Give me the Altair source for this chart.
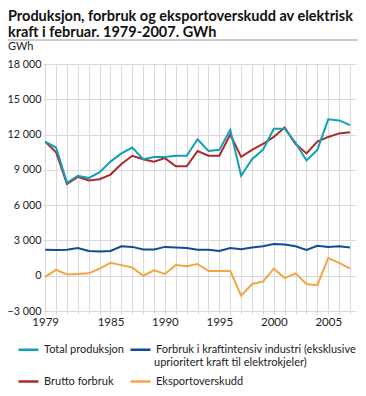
import altair as alt
import pandas as pd

years = list(range(1979, 2008))
total_produksjon = [11400, 10900, 7900, 8500, 8300, 8800, 9700, 10400, 10900, 9900,
                    10100, 10100, 10200, 10200, 11600, 10600, 10700, 12400, 8500, 9900,
                    10700, 12500, 12500, 11300, 9800, 10700, 13300, 13200, 12800]
brutto_forbruk = [11400, 10500, 7800, 8400, 8100, 8200, 8600, 9500, 10200, 9900,
                  9700, 10000, 9300, 9300, 10600, 10200, 10200, 12000, 10100, 10700,
                  11200, 11800, 12600, 11200, 10400, 11400, 11800, 12100, 12200]
kraftintensiv = [2200, 2180, 2200, 2350, 2100, 2050, 2100, 2500, 2450, 2230,
                 2230, 2450, 2400, 2350, 2200, 2200, 2100, 2350, 2250, 2400,
                 2500, 2700, 2650, 2500, 2200, 2550, 2450, 2500, 2400]
eksportoverskudd = [-100, 500, 100, 150, 200, 600, 1100, 900, 700, 0,
                    450, 150, 900, 800, 1000, 400, 400, 400, -1700, -700,
                    -500, 600, -200, 200, -700, -800, 1500, 1100, 600]

S_TOT = "Total produksjon"
S_IND = "Forbruk i kraftintensiv industri (eksklusive"
S_IND_2 = "uprioritert kraft til elektrokjeler)"
S_BRU = "Brutto forbruk"
S_EKS = "Eksportoverskudd"

series_order = [S_TOT, S_BRU, S_IND, S_EKS]
colors = ["#11a0b6", "#ab2a2a", "#0f4c98", "#f5a546"]
label_years = [1979, 1985, 1990, 1995, 2000, 2005]
y_ticks = [-3000, 0, 3000, 6000, 9000, 12000, 15000, 18000]

rows = []
for name, vals, o in [(S_EKS, eksportoverskudd, 0), (S_IND, kraftintensiv, 1),
                      (S_BRU, brutto_forbruk, 2), (S_TOT, total_produksjon, 3)]:
    for yr, v in zip(years, vals):
        rows.append({"year": yr, "value": v, "series": name, "o": o})
df = pd.DataFrame(rows)

FONT = "Lato"
GRID = "#d9d9de"
TXT = "#222"
FS = 11

label_expr = "indexof(" + str(label_years) + ", datum.value) >= 0 ? datum.label : ''"

lines = alt.Chart(df).mark_line(strokeWidth=2, clip=False).encode(
    x=alt.X("year:Q",
            scale=alt.Scale(domain=[1978.8, 2007.55], nice=False, zero=False),
            axis=alt.Axis(values=years, format="d", labelExpr=label_expr, title=None,
                          grid=True, gridColor=GRID, domain=False, tickSize=3,
                          tickColor=GRID, labelPadding=2, labelFontSize=FS + 0.5,
                          labelColor=TXT, labelFont=FONT, labelOverlap=False)),
    y=alt.Y("value:Q",
            scale=alt.Scale(domain=[-3000, 18000], nice=False),
            axis=alt.Axis(values=y_ticks, labelExpr="replace(format(datum.value, ','), ',', ' ')",
                          title=None, grid=True, gridColor=GRID, domain=False, ticks=False,
                          labelPadding=2, labelFontSize=10.8, labelColor=TXT, labelFont=FONT)),
    color=alt.Color("series:N", scale=alt.Scale(domain=series_order, range=colors),
                    legend=alt.Legend(title=None, orient="none", legendX=-26, legendY=274,
                                      columns=2, columnPadding=1, rowPadding=15,
                                      symbolType="stroke", symbolSize=400, symbolStrokeWidth=2.5,
                                      labelFont=FONT, labelFontSize=FS, labelColor=TXT,
                                      labelLimit=400, padding=0, labelOffset=4)),
    order=alt.Order("o:Q"),
)

title = alt.Chart(alt.Data(values=[{}])).mark_text(
    text=["Produksjon, forbruk og eksportoverskudd av elektrisk",
          "kraft i februar. 1979-2007. GWh"],
    font=FONT, fontSize=14.5, fontWeight="bold", align="left", baseline="alphabetic",
    lineHeight=16, color="#111"
).encode(x=alt.value(-35), y=alt.value(-43))

unit = alt.Chart(alt.Data(values=[{}])).mark_text(
    text="GWh", font=FONT, fontSize=FS, align="left", baseline="alphabetic", color=TXT
).encode(x=alt.value(-35), y=alt.value(-14))

legend_line2 = alt.Chart(alt.Data(values=[{}])).mark_text(
    text=S_IND_2, font=FONT, fontSize=FS, align="left", baseline="middle", color=TXT
).encode(x=alt.value(111), y=alt.value(299))

top_rule = alt.Chart(alt.Data(values=[{}])).mark_rule(color="#9a9a9a", strokeWidth=1).encode(
    x=alt.value(-35), x2=alt.value(319), y=alt.value(-24))
bottom_rule = alt.Chart(alt.Data(values=[{}])).mark_rule(color="#9a9a9a", strokeWidth=1).encode(
    x=alt.value(-35), x2=alt.value(319), y=alt.value(329))

chart = alt.layer(lines, title, unit, legend_line2, top_rule, bottom_rule).properties(
    width=313, height=247,
    autosize=alt.AutoSizeParams(type="none"),
    padding={"left": 35, "top": 56, "right": 2, "bottom": 77},
).configure_view(stroke=None)

chart.save("out.html", embed_options={"renderer": "svg", "actions": False})
